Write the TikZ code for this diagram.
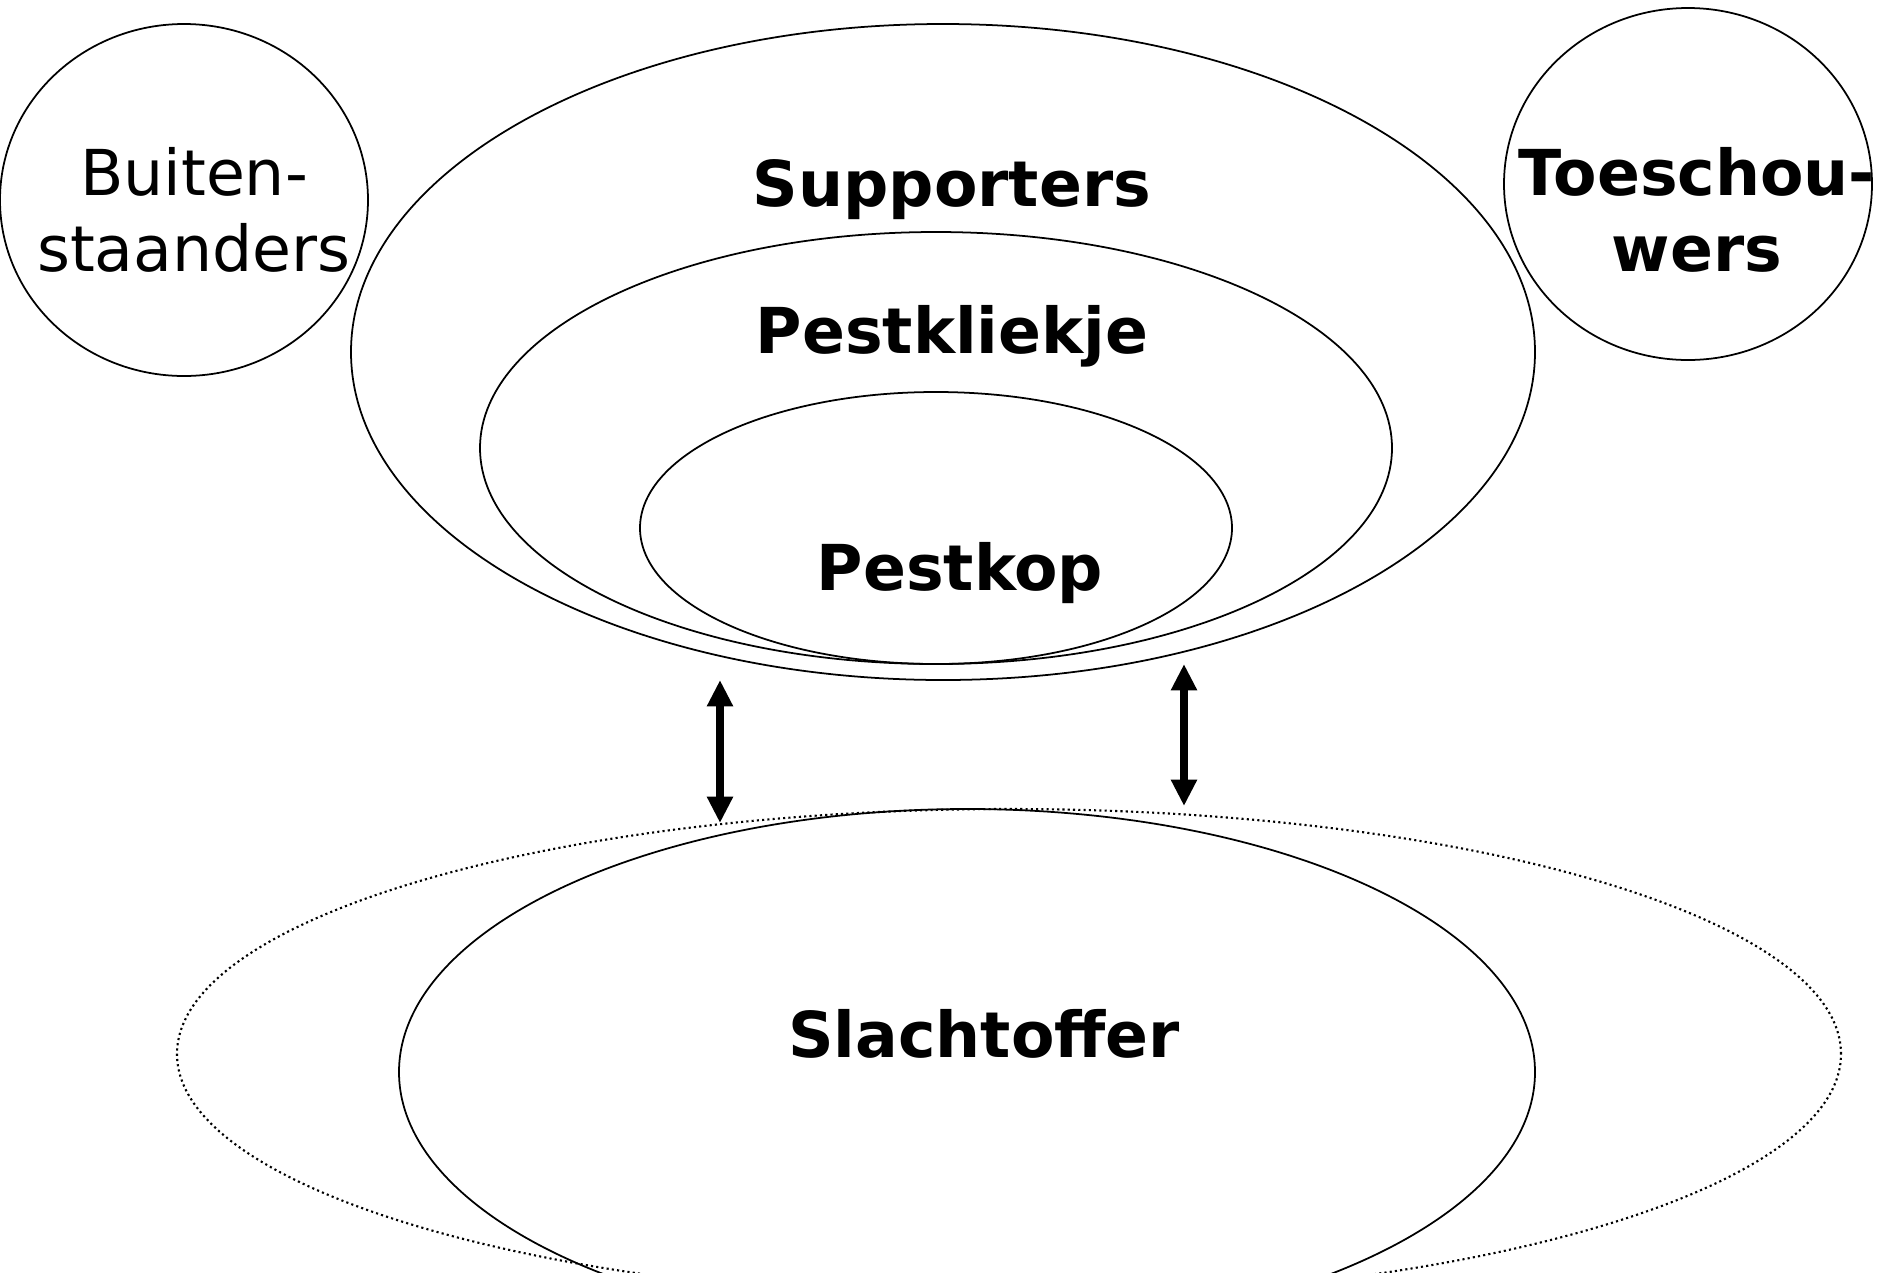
\documentclass[tikz,border=0pt]{standalone}
\usepackage{fontspec}
\setmainfont{DejaVu Sans}
\usetikzlibrary{arrows.meta}

\tikzset{
  kring/.style={black, line width=0.5pt},
  stippel/.style={black, line width=0.6pt, dash pattern=on 0.6pt off 0.9pt},
  pijl/.style={black, line width=2.2pt, {Triangle[width=7pt,length=7.5pt]}-{Triangle[width=7pt,length=7.5pt]}},
  label/.style={inner sep=0pt, align=center, font=\fontsize{18pt}{21.6pt}\selectfont},
  vet/.style={label, font=\fontsize{18pt}{21.6pt}\selectfont\bfseries}
}

\begin{document}
\begin{tikzpicture}[x=0.01cm,y=0.01cm]
\useasboundingbox (0,0) rectangle (1893,-1272);
\clip (0,0) rectangle (1893,-1272);
% buitenste groepen
\draw [kring] (184,-200) ellipse (184 and 176);
\draw [kring] (1688,-184) ellipse (184 and 176);
% pestgroep
\draw [kring] (943,-352) ellipse (592 and 328);
\draw [kring] (936,-448) ellipse (456 and 216);
\draw [kring] (936,-528) ellipse (296 and 136);
% slachtoffer
\draw [stippel] (1009,-1054) ellipse (832 and 245);
\draw [kring] (967,-1072) ellipse (568 and 263);
% teksten
\node [label] (buiten) at (194,-210) {Buiten-\\staanders};
\node [vet] (toeschouwers) at (1697,-210) {Toeschou-\\wers};
\node [vet] (supporters) at (952,-190) {Supporters};
\node [vet] (kliekje) at (952,-336) {Pestkliekje};
\node [vet] (pestkop) at (960,-573) {Pestkop};
\node [vet] (slachtoffer) at (984,-1034) {Slachtoffer};
% pijlen
\coordinate (l1) at (720,-680);
\coordinate (l2) at (720,-823);
\coordinate (r1) at (1184,-664);
\coordinate (r2) at (1184,-806);
\draw [pijl] (l1) -- (l2);
\draw [pijl] (r1) -- (r2);
\end{tikzpicture}
\end{document}
